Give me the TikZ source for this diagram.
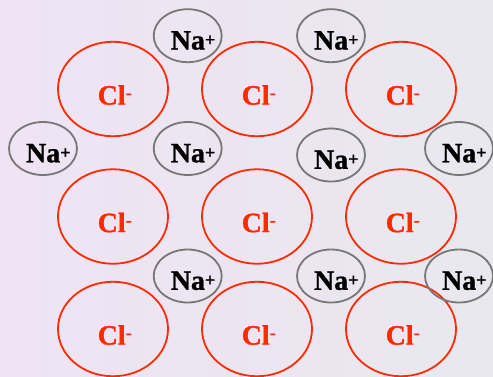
\documentclass[tikz,border=0pt]{standalone}
\usepackage{fontspec}
\setmainfont{Liberation Serif}[BoldFeatures={FakeBold=1}]
\usepackage{tikz}
\usetikzlibrary{shapes.geometric}
\definecolor{chlorred}{HTML}{FF2A00}
\definecolor{sodgray} {HTML}{777777}
\definecolor{bgleft}  {HTML}{EFE3F4}
\definecolor{bgright} {HTML}{E8E8EE}
% small raised charge sign
\newcommand\chg[2][3.8pt]{\raisebox{#1}{\fontsize{18}{18}\selectfont #2}}
\tikzset{
  % --- ions
  ion/.style   = {ellipse, line width=1.8pt, inner sep=0pt, text depth=0pt,
                  font=\fontsize{28}{32}\selectfont\bfseries},
  clion/.style = {ion, draw=chlorred, text=chlorred, minimum width=110pt,
                  minimum height=94.5pt, text height=31.2pt,
                  execute at end node={\kern-3.4pt}},
  naion/.style = {ion, draw=sodgray, text=black, minimum width=68pt,
                  minimum height=53pt, text height=27.6pt,
                  execute at end node={\kern-10.6pt}},
}

\begin{document}
\begin{tikzpicture}[x=1pt,y=-1pt]
  \useasboundingbox (0,0) rectangle (493,376);
  \shade[left color=bgleft,right color=bgright] (0,0) rectangle (493,376);
  % --- chloride ions
  \node[clion] (cl1) at (113,89)    {Cl\chg[6pt]{-}};
  \node[clion] (cl2) at (257,89)    {Cl\chg[6pt]{-}};
  \node[clion] (cl3) at (401,89)    {Cl\chg[6pt]{-}};
  \node[clion] (cl4) at (113,216.5) {Cl\chg[6pt]{-}};
  \node[clion] (cl5) at (257,216.5) {Cl\chg[6pt]{-}};
  \node[clion] (cl6) at (401,216.5) {Cl\chg[6pt]{-}};
  \node[clion] (cl7) at (113,329)   {Cl\chg[6pt]{-}};
  \node[clion] (cl8) at (257,329)   {Cl\chg[6pt]{-}};
  \node[clion] (cl9) at (401,329)   {Cl\chg[6pt]{-}};
  % --- sodium ions
  \node[naion] (na1) at (187.7,35.7)  {Na\chg{+}};
  \node[naion] (na2) at (331,35.7)    {Na\chg{+}};
  \node[naion] (na3) at (43,148.5)    {Na\chg{+}};
  \node[naion] (na4) at (187.7,148.5) {Na\chg{+}};
  \node[naion] (na5) at (331,155)     {Na\chg{+}};
  \node[naion] (na6) at (459,148.5)   {Na\chg{+}};
  \node[naion] (na7) at (187.7,276)   {Na\chg{+}};
  \node[naion] (na8) at (331,276)     {Na\chg{+}};
  \node[naion] (na9) at (459,276)     {Na\chg{+}};
\end{tikzpicture}
\end{document}
